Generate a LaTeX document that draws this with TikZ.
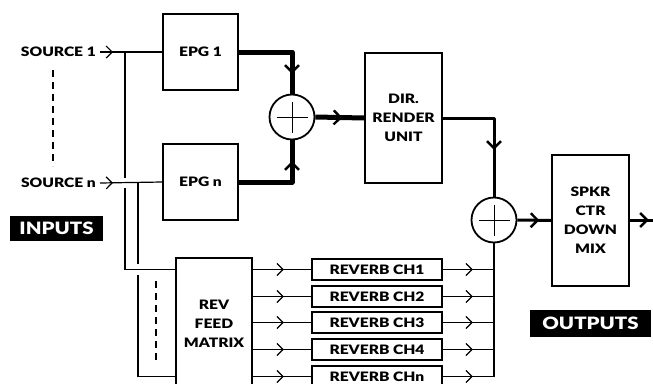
\documentclass[tikz,border=0pt]{standalone}
\usepackage{fontspec}
\setmainfont{Lato}[BoldFont={Lato Black}, FakeStretch=1.2]
\usetikzlibrary{arrows.meta,decorations.markings}
\tikzset{
  thinV/.tip={Straight Barb[length=6pt,width=12pt,line width=1.2pt]},
  thickV/.tip={Straight Barb[length=7pt,width=14pt,line width=2.4pt]},
  thinln/.style={line width=1.2pt},
  thickln/.style={line width=5pt, line join=round},
  medln/.style={line width=3pt, line join=round},
  busln/.style={line width=2.4pt},
  blk/.style={draw, line width=1.6pt, inner sep=0pt, align=center},
  sumnode/.style={circle, draw, line width=1.8pt, minimum size=45pt, inner sep=0pt, fill=white},
  lbl/.style={inner sep=0pt, anchor=east},
  tag/.style={fill=black, text=white, inner sep=0pt, font=\fontsize{17}{18}\selectfont\bfseries},
  dashln/.style={line width=2.2pt, dash pattern=on 7pt off 5pt},
  amid/.style={postaction={decorate, decoration={markings, mark=at position #1 with {\arrow{thinV}}}}},
  athick/.style={postaction={decorate, decoration={markings, mark=at position #1 with {\arrow{thickV}}}}},
}
\begin{document}
\begin{tikzpicture}[x=1pt,y=-1pt,font=\fontsize{13}{19}\selectfont\bfseries]
\useasboundingbox (0,0) rectangle (653,383);
\clip (0,0) rectangle (653,383);
\fill[white] (0,0) rectangle (653,383);

% sources
\coordinate (s1) at (100,52);
\coordinate (sn) at (100,183);
\node[lbl] (src1) at (96,52) {SOURCE 1};
\node[lbl] (srcn) at (96,183) {SOURCE n};
\coordinate (d1a) at (53,70);
\coordinate (d1b) at (53,166);
\draw[dashln] (d1a) -- (d1b);

% blocks
\node[blk, minimum width=75pt, minimum height=76pt] (epg1) at (200.5,52) {EPG 1};
\node[blk, minimum width=75pt, minimum height=76pt] (epgn) at (200.5,182) {EPG n};
\node[sumnode] (sum1) at (292,117) {};
\node[blk, minimum width=77pt, minimum height=130pt] (dir) at (403.5,118) {DIR.\\RENDER\\UNIT};
\node[sumnode] (sum2) at (494,220) {};
\node[blk, minimum width=77pt, minimum height=131pt] (spkr) at (590.5,220.5) {SPKR\\CTR\\DOWN\\MIX};
\node[blk, minimum width=76pt, minimum height=132pt] (rev) at (214,324) {REV\\FEED\\MATRIX};
\foreach \i/\y/\t in {1/269.5/CH1, 2/296.5/CH2, 3/322.5/CH3, 4/349.5/CH4, 5/376.5/CHn}{
  \node[blk, minimum width=130pt, minimum height=21pt] (rv\i) at (377,\y) {REVERB \t};
}
\node[tag, minimum width=93pt, minimum height=25pt] (inputs) at (56.5,228.5) {INPUTS};
\node[tag, minimum width=121pt, minimum height=27pt] (outputs) at (590.5,323.5) {OUTPUTS};

% source lines
\draw[thinln, amid=13pt] (s1) -- (epg1.west);
\draw[thinln, amid=13pt] (sn) -- (epgn.west);

% feeds to reverb matrix
\coordinate (j1) at (125,52);
\coordinate (j1a) at (125,178);
\coordinate (j1b) at (125,188);
\coordinate (j2) at (138,183);
\coordinate (j2a) at (138,264);
\coordinate (j2b) at (138,275);
\draw[thinln] (j1) -- (j1a);
\draw[thinln] (j1b) -- (j1b |- rv1) -- (rev.west |- rv1);
\draw[thinln] (j2) -- (j2a);
\draw[thinln] (j2b) -- (j2b |- rv5) -- (rev.west |- rv5);
\coordinate (d2a) at (156,281);
\coordinate (d2b) at (156,363);
\draw[dashln] (d2a) -- (d2b);

% direct path
\draw[thickln, athick=75pt] (epg1.east) -| (sum1.north);
\draw[thickln, athick=74pt] (epgn.east) -| (sum1.south);
\draw[thickln, athick=27pt] (sum1.east) -- (dir.west);
\draw[medln, athick=83pt] (dir.east) -| (sum2.north);
\draw[medln, athick=22pt] (sum2.east) -- (spkr.west);
\coordinate (out) at (653,220);
\draw[medln, athick=19pt] (spkr.east |- out) -- (out);

% sum crosses
\foreach \s in {sum1,sum2}{
  \draw[line width=0.9pt] ([xshift=-15.5pt]\s.center) -- ([xshift=15.5pt]\s.center);
  \draw[line width=0.9pt] ([yshift=-15.5pt]\s.center) -- ([yshift=15.5pt]\s.center);
}

% reverb lines
\draw[busln] (sum2.south) -- (sum2 |- rv5);
\foreach \i in {1,...,5}{
  \draw[thinln, amid=31pt] (rev.east |- rv\i) -- (rv\i.west);
  \draw[thinln, amid=30pt] (rv\i.east) -- (rv\i -| sum2);
}
\end{tikzpicture}
\end{document}
